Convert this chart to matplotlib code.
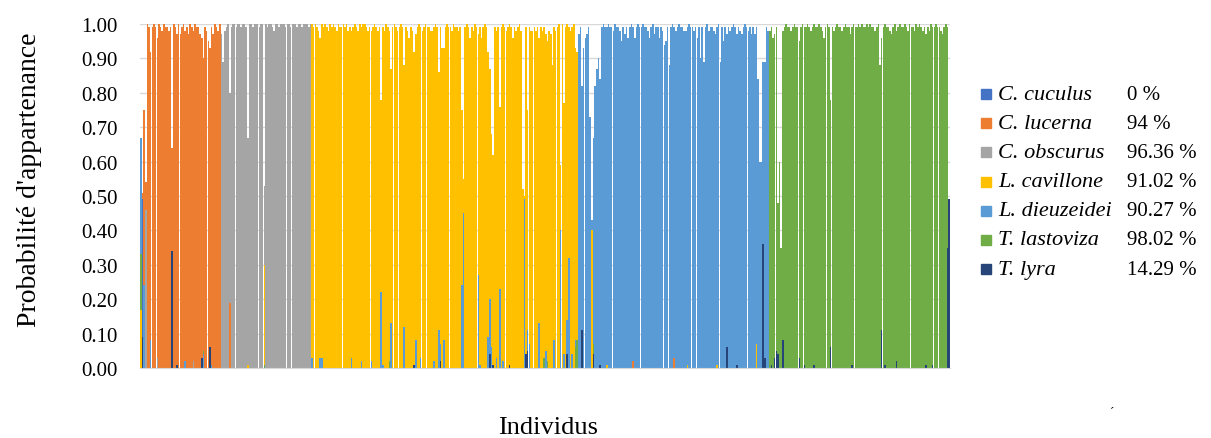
import numpy as np
import matplotlib
matplotlib.use("Agg")
import matplotlib.pyplot as plt
from matplotlib.patches import Rectangle

plt.rcParams['font.family'] = ['Liberation Serif', 'DejaVu Serif']

# Species (series order), colours and correct assignment rates
species = ["C. cuculus", "C. lucerna", "C. obscurus", "L. cavillone",
           "L. dieuzeidei", "T. lastoviza", "T. lyra"]
colors = ["#4472C4", "#ED7D31", "#A5A5A5", "#FFC000", "#5B9BD5", "#70AD47", "#264478"]
rates = ["0 %", "94 %", "96.36 %", "91.02 %", "90.27 %", "98.02 %", "14.29 %"]

# first individuals (C. cuculus), species index -> probability
start_bars = [{4: 0.67, 5: 0.33, 3: 0.17},
              {0: 0.49, 1: 0.51, 6: 0.09},
              {1: 0.75, 4: 0.24},
              {1: 0.54, 2: 0.46}]

# main membership probability of each individual, by assigned group
lucerna_main = [1.00, 0.99, 0.92, 0.99, 1.00, 0.99, 0.96, 1.00, 0.99, 0.98,
                1.00, 0.99, 0.99, 0.98, 0.99, 0.64, 1.00, 0.99, 0.97, 1.00,
                0.97, 0.99, 1.00, 0.98, 0.99, 0.97, 1.00, 0.99, 0.98, 1.00,
                0.99, 0.99, 0.97, 0.96, 0.90, 0.99, 0.98, 0.95, 0.93, 0.99,
                0.97, 1.00, 0.99, 0.98, 1.00]
obscurus_main = [0.97, 0.89, 0.98, 0.99, 1.00, 0.80, 0.99, 1.00, 1.00, 0.99,
                 1.00, 1.00, 0.99, 1.00, 1.00, 0.99, 0.67, 1.00, 1.00, 0.99,
                 1.00, 1.00, 1.00, 0.99, 1.00, 1.00, 0.53, 1.00, 0.99, 1.00,
                 1.00, 0.99, 0.98, 1.00, 1.00, 0.99, 1.00, 1.00, 1.00, 0.99,
                 1.00, 1.00, 0.99, 1.00, 1.00, 1.00, 0.99, 1.00, 1.00, 0.99,
                 1.00, 1.00, 1.00, 0.99, 1.00]
cavillone_main = [1.00, 0.99, 1.00, 0.99, 0.98, 0.96, 1.00, 0.99, 1.00, 0.99,
                  0.98, 1.00, 0.99, 1.00, 0.99, 0.98, 1.00, 0.99, 0.99, 1.00,
                  0.99, 1.00, 0.98, 0.99, 0.98, 0.99, 1.00, 0.99, 0.98, 1.00,
                  0.99, 1.00, 1.00, 0.99, 0.98, 0.99, 0.98, 0.99, 1.00, 0.99,
                  0.98, 0.99, 0.78, 0.99, 0.98, 1.00, 0.99, 0.98, 0.87, 0.99,
                  1.00, 0.99, 0.98, 0.99, 1.00, 0.99, 0.88, 0.99, 0.98, 0.96,
                  0.99, 0.98, 0.92, 0.97, 0.99, 1.00, 0.99, 0.98, 0.99, 1.00,
                  0.99, 0.99, 0.98, 0.98, 0.99, 1.00, 0.99, 0.86, 0.99, 0.93,
                  0.93, 0.99, 1.00, 0.99, 0.99, 0.98, 1.00, 0.99, 0.99, 0.98,
                  0.99, 0.75, 0.55, 0.99, 1.00, 0.99, 0.96, 0.99, 0.98, 1.00,
                  0.99, 0.97, 0.99, 0.96, 0.99, 1.00, 0.99, 0.92, 0.87, 0.68,
                  0.62, 0.99, 0.98, 0.99, 0.76, 0.99, 1.00, 0.99, 0.98, 0.99,
                  1.00, 0.99, 0.96, 0.99, 0.98, 0.99, 1.00, 0.98, 0.52, 0.50,
                  0.99, 0.75, 0.99, 0.98, 0.98, 0.99, 0.98, 0.99, 0.96, 0.99,
                  0.98, 0.99, 0.97, 0.95, 0.98, 0.97, 0.88, 0.99, 0.98, 0.99,
                  1.00, 0.59, 1.00, 0.77, 0.99, 1.00, 0.99, 0.98, 0.99, 1.00,
                  0.93, 0.92]
dieuzeidei_main = [0.97, 0.99, 0.82, 0.93, 0.96, 0.97, 0.99, 0.73, 0.43, 0.67,
                   0.82, 0.87, 0.90, 0.84, 0.99, 1.00, 0.99, 0.99, 1.00, 0.99,
                   0.99, 0.98, 1.00, 0.99, 0.99, 0.98, 0.95, 0.99, 0.97, 0.99,
                   0.96, 0.99, 1.00, 0.99, 0.96, 0.99, 1.00, 0.99, 0.99, 1.00,
                   0.99, 0.99, 0.98, 0.96, 0.99, 1.00, 0.97, 0.99, 0.99, 0.96,
                   0.99, 0.98, 0.94, 0.95, 0.99, 0.88, 0.99, 1.00, 0.99, 0.98,
                   0.99, 1.00, 0.99, 0.99, 0.98, 0.98, 0.99, 1.00, 0.99, 0.99,
                   0.98, 0.99, 0.96, 0.99, 0.90, 0.99, 0.89, 0.99, 1.00, 0.98,
                   0.99, 0.99, 0.98, 0.97, 0.99, 1.00, 0.89, 0.99, 0.95, 0.99,
                   0.97, 0.99, 0.98, 0.99, 1.00, 0.99, 0.97, 0.99, 0.98, 0.97,
                   0.99, 1.00, 0.99, 0.98, 0.99, 0.97, 0.99, 0.97, 0.99, 0.84,
                   0.60, 0.60, 0.89, 0.89, 0.99, 0.98]
lastoviza_main = [0.98, 0.99, 0.96, 0.97, 0.99, 0.48, 0.60, 0.35, 0.98, 0.99,
                  1.00, 0.99, 0.99, 0.98, 0.99, 1.00, 0.99, 0.99, 0.95, 0.99,
                  1.00, 0.99, 0.99, 1.00, 0.99, 0.98, 0.99, 1.00, 0.99, 0.99,
                  1.00, 0.99, 0.98, 0.96, 0.99, 1.00, 0.99, 0.78, 0.99, 0.98,
                  0.99, 1.00, 0.99, 0.99, 0.98, 0.99, 1.00, 0.99, 0.99, 0.97,
                  0.99, 1.00, 0.99, 0.99, 1.00, 0.99, 1.00, 0.99, 0.99, 1.00,
                  0.99, 1.00, 0.99, 0.99, 0.98, 0.99, 1.00, 0.88, 0.96, 0.99,
                  1.00, 0.99, 0.99, 0.98, 0.97, 0.99, 1.00, 0.98, 0.99, 1.00,
                  0.99, 0.99, 1.00, 0.99, 0.98, 1.00, 0.99, 0.99, 0.98, 1.00,
                  0.99, 1.00, 0.99, 0.98, 0.99, 0.97, 0.99, 0.98, 1.00, 0.99,
                  0.99, 1.00, 0.99, 0.99, 0.98, 0.97, 0.99, 1.00]

# smaller memberships: (individual within group, species index, probability)
lucerna_extra = [(2, 4, 0.08), (6, 2, 0.03), (15, 6, 0.34), (18, 6, 0.01),
                 (23, 4, 0.02), (28, 2, 0.02), (33, 6, 0.03), (34, 4, 0.04),
                 (34, 5, 0.05), (38, 6, 0.06), (39, 4, 0.01)]
obscurus_extra = [(5, 1, 0.19), (16, 3, 0.01), (26, 3, 0.30), (26, 5, 0.01)]
cavillone_extra = [(0, 4, 0.03), (5, 4, 0.03), (6, 4, 0.03), (24, 4, 0.03), (30, 4, 0.02),
                   (36, 4, 0.02), (42, 4, 0.22), (43, 4, 0.01), (47, 5, 0.02), (48, 4, 0.13),
                   (56, 4, 0.12), (62, 6, 0.01), (63, 4, 0.08), (66, 4, 0.03), (74, 4, 0.02),
                   (77, 4, 0.11), (78, 4, 0.07), (78, 6, 0.02), (80, 4, 0.08), (91, 4, 0.24),
                   (92, 4, 0.45), (101, 4, 0.27), (102, 4, 0.01), (107, 4, 0.09), (108, 4, 0.20),
                   (108, 6, 0.04), (109, 4, 0.06), (110, 6, 0.01), (112, 4, 0.03), (114, 4, 0.23),
                   (116, 4, 0.02), (120, 4, 0.01), (120, 6, 0.01), (129, 4, 0.49), (130, 6, 0.04),
                   (131, 4, 0.11), (131, 6, 0.05), (132, 4, 0.07), (138, 4, 0.13), (141, 5, 0.03),
                   (142, 4, 0.05), (143, 5, 0.02), (147, 4, 0.08), (151, 4, 0.40), (153, 4, 0.04),
                   (155, 4, 0.14), (155, 6, 0.04), (156, 4, 0.32), (158, 4, 0.04), (160, 4, 0.08),
                   (160, 5, 0.06), (161, 5, 0.08)]
dieuzeidei_extra = [(2, 6, 0.11), (8, 3, 0.40), (9, 6, 0.04), (9, 5, 0.07), (13, 6, 0.01),
                    (17, 3, 0.01), (33, 1, 0.02), (58, 1, 0.03), (66, 3, 0.01), (84, 3, 0.01),
                    (90, 6, 0.06), (96, 6, 0.01), (108, 3, 0.07), (112, 6, 0.36), (113, 6, 0.03)]
lastoviza_extra = [(1, 6, 0.01), (3, 6, 0.03), (4, 6, 0.05), (5, 6, 0.04), (8, 6, 0.08),
                   (18, 6, 0.03), (21, 6, 0.01), (27, 6, 0.01), (37, 6, 0.06), (50, 6, 0.01),
                   (68, 6, 0.11), (70, 6, 0.01), (77, 6, 0.02), (95, 6, 0.01), (99, 6, 0.01)]

# last individuals (T. lyra)
end_bars = [{5: 0.99, 6: 0.35},
            {6: 0.49}]

# build the probability table: one row per individual, one column per species
rows = []
for d in start_bars:
    r = np.zeros(7)
    for s, v in d.items():
        r[s] = v
    rows.append(r)
groups = [(1, lucerna_main, lucerna_extra), (2, obscurus_main, obscurus_extra),
          (3, cavillone_main, cavillone_extra), (4, dieuzeidei_main, dieuzeidei_extra),
          (5, lastoviza_main, lastoviza_extra)]
for sp, main, extra in groups:
    block = np.zeros((len(main), 7))
    block[:, sp] = main
    for k, s, v in extra:
        block[k, s] = v
    rows.extend(block)
for d in end_bars:
    r = np.zeros(7)
    for s, v in d.items():
        r[s] = v
    rows.append(r)
P = np.array(rows)
n = len(P)
x = np.arange(n)

fig = plt.figure(figsize=(12.11, 4.39), dpi=100)
ax = fig.add_axes([140 / 1211, 1 - 369 / 439, 810 / 1211, 344 / 439])

# overlapped columns: the tallest one of each individual is drawn at the back
bars = []
for s in range(7):
    bars.append(ax.bar(x, P[:, s], width=0.95, color=colors[s], linewidth=0))
for i in range(n):
    order = np.argsort(-P[i])
    for r, s in enumerate(order):
        bars[s][i].set_zorder(2 + r * 0.01)

ax.set_xlim(-0.5, n - 0.5)
ax.set_ylim(0, 1)
ax.set_yticks(np.arange(0, 1.01, 0.1))
ax.set_yticklabels(["%.2f" % v for v in np.arange(0, 1.01, 0.1)], fontsize=15)
ax.set_xticks([])
ax.tick_params(axis='y', length=0, pad=16)
ax.grid(axis='y', color='#D9D9D9', linewidth=1)
ax.set_axisbelow(True)
for side in ['top', 'right', 'left']:
    ax.spines[side].set_visible(False)
ax.spines['bottom'].set_color('#D9D9D9')

fig.text(30 / 1211, 1 - 180 / 439, "Probabilité d'appartenance", rotation=90,
         ha='center', va='center', fontsize=20)
fig.text(548 / 1211, 1 - 428 / 439, "Individus", ha='center', va='center', fontsize=19)
fig.text(1112 / 1211, 1 - 413 / 439, "´", ha='center', va='center', fontsize=9)

# legend drawn by hand: square, italic name, rate
for j in range(7):
    yc = 95 + j * 29.2
    fig.patches.append(Rectangle((981 / 1211, 1 - (yc + 5) / 439), 10 / 1211, 10 / 439,
                                 transform=fig.transFigure, color=colors[j]))
    fig.text(998 / 1211, 1 - yc / 439, species[j], style='italic', fontsize=16,
             ha='left', va='center')
    fig.text(1127 / 1211, 1 - yc / 439, rates[j], fontsize=15, ha='left', va='center')

fig.savefig("out.png", dpi=100)
